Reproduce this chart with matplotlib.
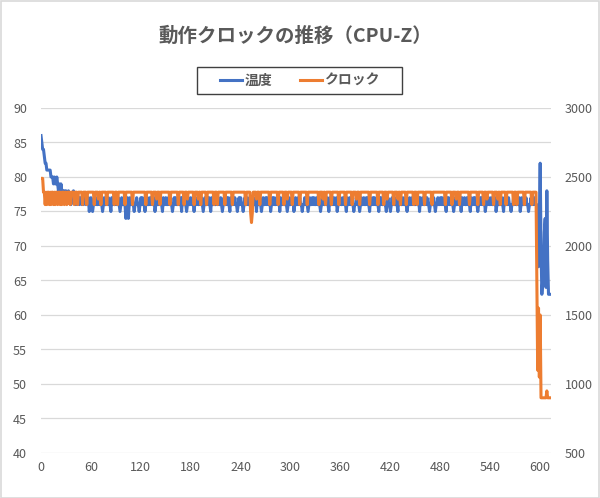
import matplotlib
matplotlib.use("Agg")
import matplotlib.pyplot as plt
from matplotlib.patches import Rectangle
from matplotlib.lines import Line2D
import numpy as np

plt.rcParams['font.family'] = ['Noto Sans CJK JP', 'DejaVu Sans']

# temperature (left axis), one value per second, 0..612
temp = [
    86, 85, 84, 84, 83, 82, 82, 81, 81, 81, 81, 81, 80, 80, 80, 79, 80, 79, 79, 80, 79, 78, 79, 78, 79, 78, 78, 77, 78, 77,
    78, 77, 77, 78, 77, 77, 76, 77, 77, 78, 77, 77, 76, 77, 77, 77, 76, 77, 77, 76, 77, 76, 77, 77, 76, 77, 76, 77, 75, 76,
    77, 76, 75, 76, 77, 76, 77, 76, 76, 77, 76, 77, 77, 76, 75, 76, 77, 76, 76, 77, 76, 77, 76, 76, 75, 77, 76, 77, 76, 76,
    77, 76, 76, 77, 76, 75, 76, 77, 76, 76, 77, 76, 74, 76, 77, 74, 76, 77, 76, 76, 77, 76, 75, 76, 76, 77, 76, 76, 75, 76,
    77, 76, 77, 76, 76, 75, 76, 76, 77, 76, 76, 77, 76, 77, 76, 76, 77, 75, 76, 77, 76, 76, 77, 76, 77, 76, 75, 77, 76, 76,
    77, 76, 76, 77, 76, 77, 76, 76, 75, 76, 77, 76, 77, 76, 76, 77, 76, 76, 77, 75, 77, 76, 76, 77, 76, 75, 76, 77, 76, 76,
    77, 76, 76, 77, 75, 77, 76, 76, 77, 76, 76, 77, 76, 77, 76, 75, 76, 77, 76, 76, 77, 76, 77, 76, 75, 77, 76, 76, 77, 76,
    76, 77, 76, 77, 76, 76, 77, 76, 75, 76, 77, 76, 76, 77, 76, 77, 76, 75, 77, 76, 76, 77, 76, 77, 76, 76, 75, 76, 77, 76,
    77, 76, 76, 75, 76, 77, 76, 76, 77, 76, 76, 77, 77, 76, 76, 77, 76, 76, 77, 75, 77, 76, 76, 77, 76, 75, 76, 77, 76, 76,
    77, 76, 77, 76, 76, 77, 75, 76, 77, 76, 77, 76, 76, 77, 76, 76, 77, 75, 77, 76, 76, 77, 76, 76, 77, 76, 75, 76, 77, 76,
    76, 77, 76, 77, 75, 76, 77, 76, 76, 77, 76, 77, 76, 76, 75, 76, 76, 77, 76, 77, 76, 75, 76, 77, 76, 76, 77, 76, 77, 76,
    76, 77, 76, 76, 77, 76, 75, 76, 76, 77, 76, 76, 77, 76, 77, 76, 75, 77, 76, 76, 77, 76, 77, 76, 76, 77, 75, 76, 77, 76,
    77, 76, 76, 77, 76, 77, 76, 75, 77, 76, 76, 77, 76, 77, 76, 76, 75, 76, 76, 77, 76, 77, 76, 75, 76, 77, 76, 76, 77, 76,
    76, 77, 76, 77, 76, 75, 77, 76, 76, 77, 76, 77, 76, 76, 77, 76, 75, 77, 76, 77, 76, 76, 77, 76, 76, 75, 76, 77, 76, 76,
    75, 76, 77, 76, 77, 76, 76, 77, 76, 75, 77, 76, 77, 76, 76, 77, 76, 76, 77, 76, 75, 76, 76, 77, 76, 76, 77, 76, 77, 76,
    76, 77, 76, 76, 77, 75, 77, 76, 76, 77, 76, 76, 77, 76, 77, 76, 76, 75, 76, 77, 76, 76, 77, 76, 75, 76, 76, 77, 76, 76,
    77, 76, 77, 76, 76, 77, 76, 75, 77, 76, 77, 76, 76, 77, 76, 76, 75, 76, 77, 76, 76, 77, 76, 76, 77, 75, 77, 76, 76, 77,
    76, 76, 77, 76, 77, 76, 75, 77, 76, 76, 77, 76, 77, 76, 76, 75, 76, 76, 77, 76, 77, 76, 76, 77, 75, 76, 77, 76, 77, 76,
    76, 77, 76, 76, 77, 76, 77, 75, 76, 77, 76, 76, 77, 76, 77, 76, 75, 77, 76, 76, 77, 76, 77, 76, 76, 75, 76, 76, 77, 76,
    77, 76, 76, 77, 76, 77, 75, 76, 77, 76, 76, 77, 76, 77, 76, 76, 75, 76, 76, 77, 76, 77, 76, 77, 76, 76, 76, 67, 67, 75,
    82, 70, 63, 65, 66, 72, 74, 64, 78, 68, 63, 63, 63,
]

# clock in MHz (right axis)
clock = [
    2490, 2490, 2490, 2390, 2390, 2300, 2390, 2300, 2390, 2390, 2300, 2390, 2300, 2390, 2390, 2300, 2390, 2300, 2390, 2390, 2300, 2390, 2390, 2300, 2390, 2300, 2390, 2390, 2300, 2390,
    2390, 2300, 2390, 2390, 2390, 2300, 2390, 2390, 2390, 2390, 2300, 2390, 2390, 2390, 2300, 2390, 2390, 2390, 2390, 2390, 2300, 2390, 2390, 2390, 2390, 2300, 2390, 2390, 2390, 2390,
    2390, 2390, 2390, 2390, 2300, 2390, 2390, 2390, 2390, 2340, 2390, 2390, 2300, 2390, 2390, 2390, 2390, 2390, 2390, 2300, 2390, 2390, 2390, 2390, 2390, 2390, 2390, 2390, 2300, 2390,
    2390, 2390, 2300, 2390, 2390, 2390, 2390, 2390, 2390, 2390, 2390, 2300, 2390, 2390, 2390, 2390, 2390, 2390, 2390, 2390, 2300, 2390, 2390, 2390, 2390, 2390, 2390, 2390, 2390, 2390,
    2390, 2390, 2390, 2390, 2390, 2390, 2300, 2390, 2390, 2390, 2390, 2390, 2390, 2390, 2300, 2390, 2390, 2390, 2390, 2340, 2390, 2390, 2390, 2300, 2390, 2390, 2390, 2390, 2390, 2390,
    2390, 2390, 2390, 2390, 2390, 2300, 2390, 2390, 2390, 2390, 2390, 2390, 2390, 2390, 2390, 2300, 2390, 2390, 2390, 2390, 2390, 2390, 2300, 2390, 2390, 2390, 2340, 2390, 2390, 2390,
    2390, 2390, 2390, 2390, 2300, 2390, 2390, 2390, 2390, 2340, 2390, 2390, 2300, 2390, 2390, 2390, 2390, 2390, 2390, 2300, 2390, 2390, 2390, 2390, 2390, 2390, 2390, 2390, 2300, 2390,
    2390, 2390, 2300, 2390, 2390, 2390, 2390, 2390, 2390, 2390, 2390, 2300, 2390, 2390, 2390, 2390, 2390, 2390, 2390, 2390, 2300, 2390, 2390, 2390, 2390, 2390, 2390, 2390, 2390, 2390,
    2390, 2390, 2390, 2390, 2390, 2390, 2300, 2390, 2390, 2390, 2390, 2390, 2240, 2170, 2240, 2390, 2390, 2390, 2390, 2340, 2390, 2390, 2390, 2300, 2390, 2390, 2390, 2390, 2390, 2390,
    2390, 2390, 2390, 2390, 2390, 2300, 2390, 2390, 2390, 2390, 2390, 2390, 2390, 2390, 2390, 2300, 2390, 2390, 2390, 2390, 2390, 2390, 2300, 2390, 2390, 2390, 2340, 2390, 2390, 2390,
    2390, 2390, 2300, 2390, 2390, 2390, 2390, 2390, 2390, 2390, 2390, 2300, 2390, 2390, 2390, 2390, 2390, 2390, 2390, 2390, 2300, 2390, 2390, 2390, 2390, 2390, 2390, 2390, 2390, 2390,
    2390, 2390, 2390, 2390, 2300, 2390, 2390, 2390, 2390, 2340, 2390, 2390, 2300, 2390, 2390, 2390, 2390, 2390, 2390, 2300, 2390, 2390, 2390, 2390, 2390, 2390, 2390, 2390, 2300, 2390,
    2390, 2390, 2390, 2390, 2390, 2390, 2300, 2390, 2390, 2390, 2390, 2390, 2390, 2390, 2300, 2390, 2390, 2390, 2390, 2340, 2390, 2390, 2390, 2300, 2390, 2390, 2390, 2390, 2390, 2390,
    2390, 2390, 2390, 2390, 2390, 2300, 2390, 2390, 2390, 2390, 2390, 2390, 2390, 2390, 2390, 2300, 2390, 2390, 2390, 2390, 2390, 2390, 2300, 2390, 2390, 2390, 2340, 2390, 2390, 2390,
    2390, 2390, 2390, 2390, 2300, 2390, 2390, 2390, 2390, 2340, 2390, 2390, 2300, 2390, 2390, 2390, 2390, 2390, 2390, 2300, 2390, 2390, 2390, 2390, 2390, 2390, 2390, 2390, 2300, 2390,
    2390, 2390, 2300, 2390, 2390, 2390, 2390, 2390, 2390, 2390, 2390, 2300, 2390, 2390, 2390, 2390, 2390, 2390, 2390, 2390, 2300, 2390, 2390, 2390, 2390, 2390, 2390, 2390, 2390, 2390,
    2390, 2390, 2390, 2390, 2390, 2390, 2300, 2390, 2390, 2390, 2390, 2390, 2390, 2390, 2300, 2390, 2390, 2390, 2390, 2340, 2390, 2390, 2390, 2300, 2390, 2390, 2390, 2390, 2390, 2390,
    2390, 2390, 2390, 2390, 2390, 2300, 2390, 2390, 2390, 2390, 2390, 2390, 2390, 2390, 2390, 2300, 2390, 2390, 2390, 2390, 2390, 2390, 2300, 2390, 2390, 2390, 2340, 2390, 2390, 2390,
    2390, 2390, 2390, 2390, 2300, 2390, 2390, 2390, 2390, 2340, 2390, 2390, 2300, 2390, 2390, 2390, 2390, 2390, 2390, 2300, 2390, 2390, 2390, 2390, 2390, 2390, 2390, 2390, 2300, 2390,
    2390, 2390, 2300, 2390, 2390, 2390, 2390, 2390, 2390, 2390, 2390, 2300, 2390, 2390, 2390, 2390, 2390, 2390, 2390, 2390, 2300, 2390, 2390, 2390, 2390, 2390, 1700, 1100, 1550, 1050,
    1500, 900, 900, 900, 900, 900, 900, 900, 950, 900, 900, 900, 900,
]

assert len(temp) == 613, len(temp)
assert len(clock) == 613, len(clock)
seconds = np.arange(len(temp))

x_ticks = list(range(0, 601, 60))
left_ticks = list(range(40, 91, 5))
right_ticks = list(range(500, 3001, 500))

title = "動作クロックの推移（CPU-Z）"
labels = ["温度", "クロック"]
blue = "#4472C4"
orange = "#ED7D31"
gray = "#595959"

fig = plt.figure(figsize=(6.0, 4.98), dpi=100)
ax = fig.add_axes([41 / 600, 1 - 453 / 498, 510 / 600, 345 / 498])
ax2 = ax.twinx()

ax.plot(seconds, temp, color=blue, lw=2.2, solid_joinstyle="round")
ax2.plot(seconds, clock, color=orange, lw=2.2, solid_joinstyle="round")

ax.set_xlim(0, 613)
ax.set_ylim(40, 90)
ax2.set_ylim(500, 3000)
ax.set_xticks(x_ticks)
ax.set_yticks(left_ticks)
ax2.set_yticks(right_ticks)

ax.grid(axis="y", color="#D9D9D9", lw=0.9)
ax.set_axisbelow(True)
for a in (ax, ax2):
    for s in a.spines.values():
        s.set_visible(False)
ax.tick_params(axis="x", length=0, pad=6, labelsize=9, labelcolor=gray)
ax.tick_params(axis="y", length=0, pad=10, labelsize=9, labelcolor=gray)
ax2.tick_params(axis="y", length=0, pad=10, labelsize=9, labelcolor=gray)

fig.text(0.492, 1 - 36 / 498, title, ha="center", va="center",
         fontsize=14, fontweight="bold", color=gray)

# legend box
fig.patches.append(Rectangle((197 / 600, 1 - 94 / 498), 205 / 600, 27 / 498,
                             transform=fig.transFigure, fill=False,
                             edgecolor="#404040", lw=1.0))
handles = [Line2D([], [], color=blue, lw=2.2), Line2D([], [], color=orange, lw=2.2)]
fig.legend(handles, labels, loc="center", bbox_to_anchor=(0.5, 1 - 80.5 / 498),
           ncol=2, frameon=False, handlelength=1.6,
           handletextpad=0.15, columnspacing=2.0, labelcolor=gray,
           prop={"weight": "bold", "size": 10})

# light border around the chart
fig.patches.append(Rectangle((0.001, 0.001), 0.998, 0.997, transform=fig.transFigure,
                             fill=False, edgecolor="#D9D9D9", lw=1.2))

fig.savefig("out.png", dpi=100)
